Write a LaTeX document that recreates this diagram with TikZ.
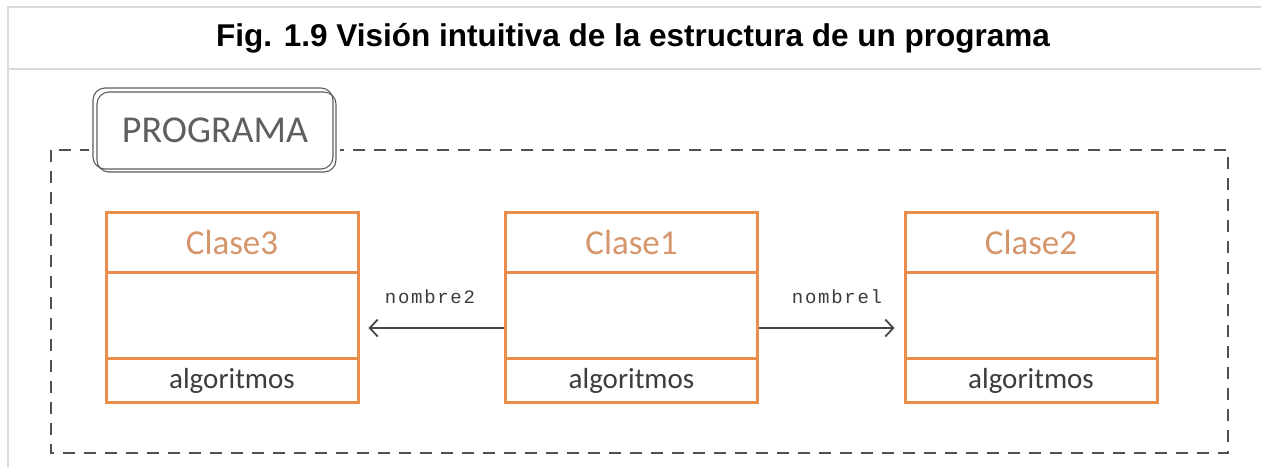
\documentclass[tikz,border=0pt]{standalone}
\usepackage{fontspec}
\setmainfont{Liberation Sans}
\newfontfamily\calfont{Carlito}
\newfontfamily\handfont[LetterSpace=9]{Liberation Mono}
\usetikzlibrary{arrows.meta}
\definecolor{framegray}{RGB}{218,218,218}
\definecolor{dashgray}{RGB}{80,80,80}
\definecolor{boxorange}{RGB}{234,140,74}
\definecolor{titleorange}{RGB}{214,150,108}
\definecolor{textgray}{RGB}{60,60,60}
\definecolor{proggray}{RGB}{95,95,95}
\definecolor{arrowgray}{RGB}{70,70,70}
\tikzset{
  frameline/.style={draw=framegray, line width=2.2pt},
  groupbox/.style={draw=dashgray, line width=1.3pt, dash pattern=on 12pt off 9pt},
  progbox/.style={draw=proggray, line width=1.1pt, rounded corners=12pt},
  classbox/.style={draw=boxorange, line width=3pt, minimum width=252pt, minimum height=190pt, inner sep=0pt, fill=white},
  divider/.style={draw=boxorange, line width=3pt},
  classtitle/.style={font=\calfont\fontsize{35}{40}\selectfont, text=titleorange},
  classalg/.style={font=\calfont\fontsize{29}{34}\selectfont, text=textgray},
  assoc/.style={draw=arrowgray, line width=1.8pt, -{Straight Barb[length=8pt,width=17pt,line width=1.8pt]}},
  rolelabel/.style={font=\handfont\fontsize{19}{21}\selectfont, text=textgray}
}
\begin{document}
\begin{tikzpicture}[x=1pt,y=-1pt]
\useasboundingbox (0,0) rectangle (1261,467);
\fill[white] (0,0) rectangle (1261,467);
% outer frame
\draw[frameline] (1261,7) -- (8,7) -- (8,467);
\draw[frameline] (8,69) -- (1261,69);
\node[font=\bfseries\fontsize{31.5}{36}\selectfont, text=black] (title) at (633,38) {Fig. 1.9 Visión intuitiva de la estructura de un programa};
% dashed group
\draw[groupbox] (51,150) rectangle (1228,453);
% PROGRAMA tab
\fill[white] (89,85) rectangle (340,176);
\draw[progbox] (93,88) rectangle (333,169);
\draw[progbox] (97,92) rectangle (336,172);
\node[font=\calfont\fontsize{38}{40}\selectfont, text=proggray] (prog) at (215,130) {PROGRAMA};
% classes
\node[classbox] (c3) at (232,307) {};
\node[classbox] (c1) at (631.5,307) {};
\node[classbox] (c2) at (1031,307) {};
\foreach \c/\t in {c3/Clase3, c1/Clase1, c2/Clase2}{
  \draw[divider] ([yshift=-62pt]\c.north west) -- ([yshift=-62pt]\c.north east);
  \draw[divider] ([yshift=45pt]\c.south west) -- ([yshift=45pt]\c.south east);
  \node[classtitle] (\c t) at ([yshift=-32pt]\c.north) {\t};
  \node[classalg] (\c a) at ([yshift=23pt]\c.south) {algoritmos};
}
% associations
\draw[assoc] ([yshift=-21pt]c1.west) -- ([yshift=-21pt,xshift=9pt]c3.east);
\draw[assoc] ([yshift=-21pt]c1.east) -- ([yshift=-21pt,xshift=-9pt]c2.west);
\node[rolelabel] (r2) at (430,297) {nombre2};
\node[rolelabel] (r1) at (837,297) {nombrel};
\end{tikzpicture}
\end{document}
